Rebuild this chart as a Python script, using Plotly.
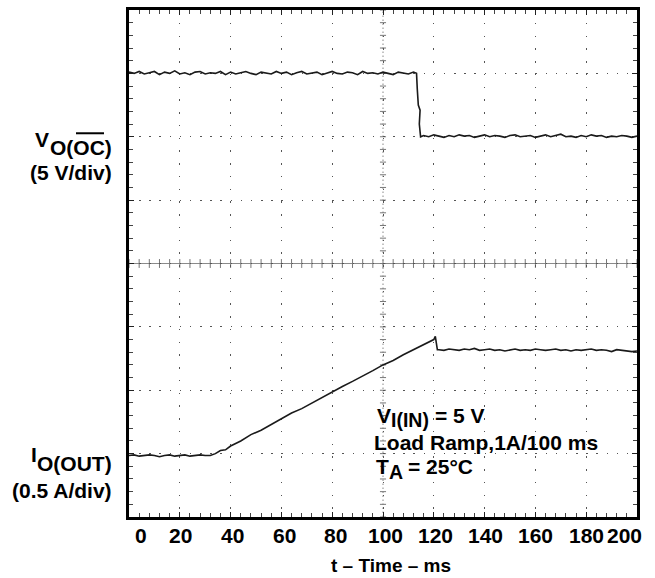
import plotly.graph_objects as go

# ---------------- data (in scope divisions; x in ms) ----------------
V_TIME = [0, 2, 4, 6, 8, 10, 12, 14, 16, 18, 20, 22, 24, 26, 28, 30, 32, 34, 36, 38,
          40, 42, 44, 46, 48, 50, 52, 54, 56, 58, 60, 62, 64, 66, 68, 70, 72, 74, 76, 78,
          80, 82, 84, 86, 88, 90, 92, 94, 96, 98, 100, 102, 104, 106, 108, 110, 112,
          113.2, 113.5, 113.9, 114.6, 114.3, 114.8,
          116, 118, 120, 122, 124, 126, 128, 130, 132, 134, 136, 138, 140, 142, 144, 146,
          148, 150, 152, 154, 156, 158, 160, 162, 164, 166, 168, 170, 172, 174, 176, 178,
          180, 182, 184, 186, 188, 190, 192, 194, 196, 198, 200]
V_DIV = [7.02, 7.00, 7.03, 6.99, 7.01, 7.03, 6.98, 7.02, 7.00, 7.04,
         6.99, 7.01, 6.98, 7.02, 7.03, 6.99, 7.01, 7.00, 7.03, 6.98,
         7.02, 6.99, 7.01, 7.03, 7.00, 6.98, 7.02, 7.01, 6.99, 7.03,
         7.00, 7.02, 6.98, 7.01, 7.03, 6.99, 7.00, 7.02, 6.98, 7.01,
         7.03, 7.00, 6.99, 7.02, 7.01, 6.98, 7.03, 7.00, 7.01, 6.99,
         7.02, 7.00, 6.98, 7.02, 7.01, 6.99, 7.02,
         7.00, 6.75, 6.50, 6.42, 6.20, 6.00,
         6.02, 6.00, 6.03, 6.01, 5.99, 6.02, 6.00, 6.03, 6.01, 6.02,
         5.99, 6.01, 6.03, 6.00, 6.02, 6.01, 5.99, 6.02, 6.03, 6.00,
         6.01, 6.02, 5.99, 6.01, 6.03, 6.00, 6.02, 6.04, 6.00, 6.01,
         5.99, 6.02, 6.00, 6.03, 6.01, 6.02, 5.99, 6.01, 6.00, 6.02,
         6.01, 5.99, 6.01]

I_TIME = [0, 2, 4, 6, 8, 10, 12, 14, 16, 18, 20, 22, 24, 26, 28, 30, 32,
          34, 36, 38,
          40, 44, 48, 52, 56, 60, 64, 68, 72, 76, 80, 84, 88, 92, 96, 100, 104, 108, 112, 116, 120,
          120.6, 121.4,
          122, 124, 126, 128, 130, 132, 134, 136, 138, 140, 142, 144, 146, 148, 150, 152,
          154, 156, 158, 160, 162, 164, 166, 168, 170, 172, 174, 176, 178, 180, 182, 184,
          186, 188, 190, 192, 194, 196, 198, 200]
I_DIV = [0.97, 0.98, 0.96, 0.97, 0.98, 0.97, 0.95, 0.97, 0.98, 0.96, 0.97, 0.98, 0.96,
         0.97, 0.98, 0.97, 0.97,
         1.00, 1.05, 1.06,
         1.12, 1.20, 1.30, 1.37, 1.46, 1.54, 1.64, 1.71, 1.80, 1.89, 1.97, 2.06, 2.14,
         2.22, 2.31, 2.40, 2.47, 2.56, 2.64, 2.73, 2.80,
         2.85, 2.64,
         2.64, 2.63, 2.65, 2.64, 2.63, 2.65, 2.64, 2.66, 2.63, 2.64,
         2.65, 2.63, 2.64, 2.62, 2.64, 2.65, 2.63, 2.64, 2.63, 2.65,
         2.64, 2.63, 2.64, 2.65, 2.63, 2.64, 2.62, 2.64, 2.63, 2.64,
         2.65, 2.63, 2.64, 2.63, 2.61, 2.64, 2.63, 2.62, 2.61, 2.62]

assert len(V_TIME) == len(V_DIV), (len(V_TIME), len(V_DIV))
assert len(I_TIME) == len(I_DIV), (len(I_TIME), len(I_DIV))

X_TICKS = [0, 20, 40, 60, 80, 100, 120, 140, 160, 180, 200]
X_TICK_TEXT = ["0", "20", "40", "60", "80", "100", "120", "140", "160", "180", "200"]
X_TICK_SHIFT = [12, 1, 2, 3, 3, 2, 2, 1, 0, 0, -13]

# ---------------- layout helpers (pixel -> paper) ----------------
L, R, T, B = 129, 637, 7, 517
W, H = R - L, B - T
FONT = "Liberation Sans, Arial, Helvetica, sans-serif"


def px(x):
    return (x - L) / W


def py(y):
    return (B - y) / H


def ann(text, x, y, xanchor="left", size=21):
    return dict(text=f"<b>{text}</b>", x=px(x), y=py(y), xref="paper", yref="paper",
                xanchor=xanchor, yanchor="middle", showarrow=False,
                font=dict(size=size, family=FONT, color="black"))


fig = go.Figure()
fig.add_trace(go.Scatter(x=V_TIME, y=V_DIV, mode="lines",
                         line=dict(color="#1a1a1a", width=1.6), hoverinfo="skip"))
fig.add_trace(go.Scatter(x=I_TIME, y=I_DIV, mode="lines",
                         line=dict(color="#1a1a1a", width=1.6), hoverinfo="skip"))

shapes = []
# centre horizontal axis line with minor ticks
shapes.append(dict(type="line", xref="x", yref="y", x0=0, x1=200, y0=4, y1=4,
                   line=dict(color="#8a8a8a", width=1.2), layer="below"))
for k in range(0, 51):
    t = k * 4
    shapes.append(dict(type="line", xref="x", yref="y", x0=t, x1=t, y0=4 - 0.07, y1=4 + 0.07,
                       line=dict(color="#777", width=1), layer="below"))
# centre vertical axis line with minor ticks
shapes.append(dict(type="line", xref="x", yref="y", x0=100, x1=100, y0=0, y1=8,
                   line=dict(color="#888", width=1, dash="1.5px,2.5px"), layer="below"))
for k in range(0, 41):
    d = k * 0.2
    shapes.append(dict(type="line", xref="x", yref="y", x0=98.8, x1=101.2, y0=d, y1=d,
                       line=dict(color="#777", width=1), layer="below"))

# overline over "OC"
shapes.append(dict(type="line", xref="paper", yref="paper", x0=px(76), x1=px(104),
                   y0=py(131), y1=py(131), line=dict(color="black", width=2)))

annotations = []
for v, txt, sh in zip(X_TICKS, X_TICK_TEXT, X_TICK_SHIFT):
    annotations.append(dict(text=f"<b>{txt}</b>", x=v, y=py(536), xref="x", yref="paper",
                            xanchor="center", yanchor="middle", xshift=sh, showarrow=False,
                            font=dict(size=21, family=FONT, color="black")))
annotations.append(dict(text="<b>t – Time – ms</b>", x=px(391), y=py(566), xref="paper",
                        yref="paper", xanchor="center", yanchor="middle", showarrow=False,
                        font=dict(size=19, family=FONT, color="black")))

# left channel labels
annotations += [
    ann("V", 51, 137, "right"),
    ann("O(OC)", 114, 145, "right"),
    ann("(5 V/div)", 114, 170, "right"),
    ann("I", 39, 454, "right"),
    ann("O(OUT)", 114, 463, "right"),
    ann("(0.5 A/div)", 114, 490, "right"),
]
# conditions text
annotations += [
    ann("V", 375, 415),
    ann("I(IN)", 389, 419, size=19.5),
    ann("= 5 V", 433, 415),
    ann("Load Ramp,1A/100 ms", 372, 442),
    ann("T", 374, 466),
    ann("A", 387, 472, size=19.5),
    ann("= 25°C", 406, 466),
]

fig.update_layout(
    width=655, height=578,
    margin=dict(l=L, r=655 - R, t=T, b=578 - B, pad=0),
    paper_bgcolor="white", plot_bgcolor="white",
    showlegend=False,
    shapes=shapes, annotations=annotations,
    xaxis=dict(range=[0, 200], tickvals=X_TICKS, showticklabels=False,
               showgrid=True, gridcolor="#555", gridwidth=1.4, griddash="1.5px,11.25px",
               zeroline=False, showline=True, linecolor="black", linewidth=3, mirror="allticks",
               ticks="inside", ticklen=5, tickcolor="#222", tickwidth=1,
               minor=dict(dtick=4, ticks="inside", ticklen=4, tickcolor="#444", tickwidth=1,
                          showgrid=False)),
    yaxis=dict(range=[0, 8], dtick=1, showticklabels=False,
               showgrid=True, gridcolor="#555", gridwidth=1.4, griddash="1.5px,8.66px",
               zeroline=False, showline=True, linecolor="black", linewidth=3, mirror="allticks",
               ticks="inside", ticklen=5, tickcolor="#222", tickwidth=1,
               minor=dict(dtick=0.2, ticks="inside", ticklen=4, tickcolor="#444", tickwidth=1,
                          showgrid=False)),
)

fig.write_html("out.html")
